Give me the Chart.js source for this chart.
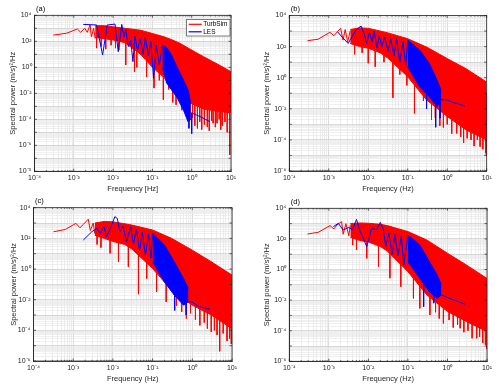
<!DOCTYPE html>
<html><head><meta charset="utf-8">
<script src="https://cdn.jsdelivr.net/npm/chart.js@4.4.0/dist/chart.umd.min.js"></script>
<style>
body{margin:0;background:#fff;width:500px;height:390px;position:relative;overflow:hidden}
canvas{position:absolute}
</style></head><body>
<canvas id="ca" width="250" height="195" style="left:0;top:0"></canvas>
<canvas id="cb" width="250" height="195" style="left:250px;top:0"></canvas>
<canvas id="cc" width="250" height="195" style="left:0;top:195px"></canvas>
<canvas id="cd" width="250" height="195" style="left:250px;top:195px"></canvas>
<script>
// ---------------- tick labels ----------------
const xTickValues = [1e-4, 1e-3, 1e-2, 1e-1, 1, 10];
const xTickLabels = ['10⁻⁴', '10⁻³', '10⁻²', '10⁻¹', '10⁰', '10¹'];
const yTickValuesA = [1e-8, 1e-6, 1e-4, 1e-2, 1, 1e2, 1e4];
const yTickLabelsA = ['10⁻⁸', '10⁻⁶', '10⁻⁴', '10⁻²', '10⁰', '10²', '10⁴'];
const yTickValuesBCD = [1e-6, 1e-4, 1e-2, 1, 1e2, 1e4];
const yTickLabelsBCD = ['10⁻⁶', '10⁻⁴', '10⁻²', '10⁰', '10²', '10⁴'];
const panelTags = ['(a)', '(b)', '(c)', '(d)'];
const xTitles = ['Frequency [Hz]', 'Frequency (Hz)', 'Frequency (Hz)', 'Frequency (Hz)'];
const yTitle = 'Spectral power (m/s)²/Hz';
const seriesNames = ['TurbSim', 'LES'];

// ---------------- panel (a) ----------------
const turbFreqA = [3.0e-4, 6.6e-4, 1.23e-3, 1.5e-3, 1.9e-3, 2.2e-3, 2.6e-3, 2.8e-3, 3.2e-3, 3.5e-3];
const turbPowA  = [3.0e2, 4.2e2, 8.9e2, 4.9e2, 1.0e3, 4.9e2, 1.8e3, 2.2e2, 1.0e3, 1.6e2];
const turbBandFreqA = [3.5e-3, 6e-3, 1e-2, 2e-2, 5e-2, 0.1, 0.2, 0.3, 0.5, 1, 2, 5, 10];
const turbHighA = [1.6e3, 1.6e3, 1.3e3, 1.0e3, 7.1e2, 4.0e2, 2.2e2, 1.4e2, 71, 21, 6.6, 1.5, 0.46];
const turbLowA  = [2.0e2, 1.6e2, 1.26e2, 79, 10, 1.0, 0.16, 0.032, 6.3e-3, 1.6e-3, 6.3e-4, 4e-4, 3.2e-4];
const turbSpikeFreqA = [3.8e-3, 5e-3, 6.5e-3, 8.9e-3, 1.15e-2, 1.4e-2, 2.1e-2, 3.5e-2, 4e-2, 7.1e-2, 0.11, 0.15, 0.19, 0.26, 0.33, 0.4, 0.56, 0.65, 0.8, 0.9, 1.05, 1.2, 1.4, 1.6, 1.8, 2.1, 2.5, 2.8, 3.2, 3.5, 4.0, 4.4, 5.0, 5.5, 6, 7, 8, 9.3];
const turbSpikeTopA  = [1e3, 1e3, 1e3, 1e3, 8e2, 8e2, 6e2, 4e2, 4e2, 3e2, 2e2, 1.5e2, 1e2, 60, 40, 30, 20, 10, 5, 3, 2, 2, 1, 1, 1, 0.5, 0.5, 0.4, 0.3, 0.3, 0.2, 0.2, 0.15, 0.1, 0.1, 0.08, 0.06, 0.05];
const turbSpikeLowA  = [30, 40, 25, 50, 30, 21, 1.5, 0.46, 1.0, 0.19, 0.025, 0.1, 3.2e-3, 0.02, 2e-3, 1.3e-3, 5e-4, 4e-4, 2.5e-4, 1e-4, 1.3e-4, 3.2e-5, 2e-5, 6.3e-5, 1.6e-5, 4e-5, 2.5e-5, 1.3e-5, 8e-5, 5e-5, 2.5e-5, 5e-5, 1e-4, 1.6e-5, 3.2e-5, 6.3e-5, 1e-5, 1.8e-7];
const lesFreqA = [1.74e-3, 3.8e-3, 5.4e-3, 7.1e-3, 1.12e-2, 1.35e-2, 1.66e-2, 1.9e-2, 2.1e-2, 2.45e-2, 2.8e-2, 3.2e-2, 3.6e-2, 4.2e-2, 4.9e-2, 5.8e-2, 6.6e-2, 7.9e-2, 9.1e-2, 0.107, 0.126, 0.15, 0.18];
const lesPowA  = [2.0e3, 1.8e3, 8.9, 1.8e3, 2.1e3, 16, 2.0e3, 2.2e2, 7.9e2, 40, 1.26e2, 2.7, 2.5e2, 20, 1.6e2, 10, 2.0e2, 7.9, 1.0e2, 0.14, 50, 1.6, 50];
const lesBandFreqA = [0.18, 0.23, 0.3, 0.42, 0.62, 0.81, 0.95];
const lesHighA = [50, 32, 10, 1.1, 0.1, 0.018, 1.6e-3];
const lesLowA  = [1.0, 0.063, 0.02, 5e-3, 5e-4, 6.3e-5, 1e-4];
const lesSpikeFreqA = [0.85, 1.0];
const lesSpikeTopA  = [1e-3, 3e-4];
const lesSpikeLowA  = [2e-5, 7.9e-6];
const lesTailFreqA = [0.95, 1.34, 1.8, 2.9];
const lesTailPowA  = [3.2e-4, 2.1e-4, 1.4e-4, 6.6e-5];

// ---------------- panel (b) ----------------
const turbFreqB = [2.9e-4, 5.4e-4, 1.07e-3, 1.35e-3, 1.66e-3, 2.0e-3, 2.3e-3, 2.6e-3, 3.0e-3, 3.5e-3];
const turbPowB  = [2.4e2, 3.0e2, 8.3e2, 5.0e2, 9.1e2, 1.5e3, 2.6e2, 1.26e3, 2.0e2, 1.0e3];
const turbBandFreqB = [3.5e-3, 6e-3, 1e-2, 2e-2, 3e-2, 0.1, 0.3, 1, 3, 10];
const turbHighB = [1.26e3, 1.6e3, 1.5e3, 1.0e3, 7.9e2, 3.2e2, 93, 17, 3.8, 0.52];
const turbLowB  = [1.6e2, 1.0e2, 79, 40, 20, 1.15, 0.037, 3.2e-3, 4.4e-4, 1e-4];
const turbSpikeFreqB = [4.5e-3, 7e-3, 1e-2, 1.5e-2, 2.5e-2, 4.2e-2, 6.3e-2, 9.5e-2, 0.148, 0.25, 0.4, 0.5, 0.65, 0.8, 1.0, 1.3, 1.74, 2.2, 2.6, 3.2, 4.0, 4.8, 5.8, 6.8, 8.0, 9.5, 9.8];
const turbSpikeTopB  = [1e3, 1e3, 8e2, 6e2, 5e2, 4e2, 3e2, 2e2, 1.5e2, 80, 40, 20, 10, 10, 5, 3, 2, 1, 1, 0.6, 0.5, 0.4, 0.3, 0.2, 0.15, 0.1, 0.1];
const turbSpikeLowB  = [32, 40, 8.5, 5.1, 10, 0.052, 1.6, 0.32, 5.1e-3, 0.032, 2e-3, 2.5e-3, 8e-4, 6.3e-4, 1e-3, 2.5e-4, 2.6e-4, 1.6e-4, 6.3e-5, 1.26e-4, 1e-4, 4e-5, 1e-4, 3.7e-5, 2.5e-5, 1.4e-5, 1e-5];
const lesFreqB = [1.66e-3, 2.2e-3, 3.1e-3, 4e-3, 5e-3, 6.6e-3, 7.9e-3, 9.1e-3, 1.07e-2, 1.26e-2, 1.4e-2, 1.66e-2, 1.9e-2, 2.2e-2, 2.6e-2, 3.2e-2, 3.7e-2, 4.5e-2, 5.2e-2, 6.3e-2, 7.6e-2, 8.9e-2, 0.1];
const lesPowB  = [9.1e2, 4.0e2, 1.6e2, 5.0e2, 1.26e3, 2.1e3, 6.3e2, 1.6e2, 7.9e2, 2.0e2, 1.0e3, 79, 5.0e2, 1.0e2, 4.0e2, 50, 3.2e2, 25, 3.2e2, 10, 2.0e2, 6.3, 2.5e2];
const lesBandFreqB = [0.1, 0.2, 0.35, 0.55, 0.7];
const lesHighB = [2.6e2, 60, 8.5, 0.71, 0.16];
const lesLowB  = [5.1, 0.26, 0.06, 0.014, 0.037];
const lesSpikeFreqB = [0.3, 0.51, 0.66];
const lesSpikeTopB  = [1, 0.1, 0.05];
const lesSpikeLowB  = [0.01, 6.5e-4, 2.5e-3];
const lesTailFreqB = [0.7, 1.0, 1.5, 2.8];
const lesTailPowB  = [0.04, 0.037, 0.025, 0.015];

// ---------------- panel (c) ----------------
const turbFreqC = [3.2e-4, 6.3e-4, 1.17e-3, 1.48e-3, 1.8e-3, 2.4e-3, 2.7e-3, 3.2e-3, 3.5e-3];
const turbPowC  = [2.7e2, 3.8e2, 9.5e2, 4.9e2, 8.1e2, 1.8e3, 3.2e2, 1.0e3, 2.0e2];
const turbBandFreqC = [3.5e-3, 6e-3, 1e-2, 2e-2, 3e-2, 0.1, 0.3, 1, 3, 10];
const turbHighC = [1.0e3, 1.26e3, 1.2e3, 8.9e2, 7.4e2, 3.5e2, 1.0e2, 17, 3.0, 0.4];
const turbLowC  = [1.6e2, 1.0e2, 63, 40, 20, 1.07, 0.042, 4.4e-3, 1e-3, 1.26e-4];
const turbSpikeFreqC = [4e-3, 5e-3, 8.5e-3, 1.38e-2, 2.45e-2, 4.4e-2, 7.1e-2, 0.126, 0.22, 0.4, 0.54, 0.71, 0.9, 1.2, 1.55, 2.0, 2.4, 3.0, 3.6, 4.2, 4.9, 6, 7.5, 8.7, 9.6];
const turbSpikeTopC  = [8e2, 8e2, 8e2, 6e2, 5e2, 4e2, 2e2, 1.5e2, 80, 30, 20, 10, 6, 4, 3, 2, 1.5, 0.8, 0.8, 0.6, 0.3, 0.3, 0.2, 0.1, 0.1];
const turbSpikeLowC  = [40, 25, 10.5, 3.0, 1.4, 0.023, 0.24, 0.032, 7.2e-3, 4e-3, 1.6e-3, 5.9e-4, 1.3e-3, 5e-4, 2.1e-4, 3.2e-4, 1.3e-4, 7.9e-5, 1e-4, 5e-5, 4.3e-6, 6.3e-5, 2e-5, 2.9e-5, 1.3e-5];
const lesFreqC = [1.8e-3, 2.95e-3, 3.9e-3, 4.8e-3, 6e-3, 6.9e-3, 8.5e-3, 1.12e-2, 1.29e-2, 1.5e-2, 1.8e-2, 2.2e-2, 2.8e-2, 3.3e-2, 3.9e-2, 4.7e-2, 5.5e-2, 6.6e-2, 7.9e-2, 9.1e-2, 0.1];
const lesPowC  = [78, 2.7e2, 4.5e2, 2.1e2, 5.8e2, 1.26e2, 4.0e2, 2.6e3, 2.0e3, 2.7e2, 6.3e2, 60, 5.8e2, 40, 4.0e2, 16, 2.5e2, 7.9, 2.0e2, 5, 2.0e2];
const lesBandFreqC = [0.1, 0.2, 0.35, 0.6, 0.8];
const lesHighC = [2.1e2, 36, 3.0, 0.24, 0.054];
const lesLowC  = [3.0, 0.14, 0.02, 4.4e-3, 7.2e-3];
const lesSpikeFreqC = [0.36, 0.7];
const lesSpikeTopC  = [0.5, 0.05];
const lesSpikeLowC  = [2e-3, 1e-3];
const lesTailFreqC = [0.8, 0.95, 1.5, 2.75];
const lesTailPowC  = [7.2e-3, 7.2e-3, 3.5e-3, 2.4e-3];

// ---------------- panel (d) ----------------
const turbFreqD = [2.9e-4, 5.4e-4, 1.07e-3, 1.35e-3, 1.6e-3, 2.1e-3, 2.3e-3, 2.7e-3, 3.2e-3, 3.5e-3];
const turbPowD  = [2.1e2, 2.7e2, 7.4e2, 4.5e2, 8.1e2, 1.35e3, 2.0e2, 1.0e3, 1.6e2, 8e2];
const turbBandFreqD = [3.5e-3, 6e-3, 1e-2, 2e-2, 3e-2, 0.1, 0.3, 1, 3, 10];
const turbHighD = [1.0e3, 1.1e3, 1.05e3, 8.9e2, 7.4e2, 3.0e2, 85, 11.5, 2.0, 0.26];
const turbLowD  = [1.26e2, 79, 63, 32, 16, 0.72, 0.022, 1.8e-3, 4e-4, 8.7e-5];
const turbSpikeFreqD = [4e-3, 5e-3, 9.1e-3, 1.8e-2, 3.5e-2, 6.6e-2, 0.138, 0.2, 0.36, 0.5, 0.62, 0.79, 1.1, 1.4, 1.8, 2.1, 2.6, 3.3, 4.2, 5.5, 6.5, 7.8, 9.1, 9.9];
const turbSpikeTopD  = [8e2, 8e2, 7e2, 5e2, 4e2, 2e2, 1e2, 60, 30, 20, 12, 5, 5, 3, 2, 1, 1, 0.7, 0.4, 0.3, 0.15, 0.1, 0.1, 0.05];
const turbSpikeLowD  = [40, 19, 5.4, 1.55, 0.27, 0.076, 0.013, 2.9e-3, 1.07e-3, 1.6e-3, 6.3e-4, 3e-4, 5e-4, 1.6e-4, 2.5e-4, 1.45e-4, 8e-5, 1e-4, 3.2e-5, 3.2e-5, 4e-5, 1.6e-5, 1.2e-5, 6.3e-6];
const lesFreqD = [1.3e-3, 1.74e-3, 2.3e-3, 3.2e-3, 4e-3, 5e-3, 6.2e-3, 7.4e-3, 9.1e-3, 1.2e-2, 1.6e-2, 2.0e-2, 2.4e-2, 2.75e-2, 3.3e-2, 4e-2, 4.7e-2, 5.6e-2, 6.8e-2, 7.9e-2, 0.1];
const lesPowD  = [6.3e2, 1.05e3, 3.8e2, 5.6e2, 4e2, 1.9e3, 3.0e2, 1.1e2, 31, 4.9e2, 4.0e2, 1.2e3, 4e2, 32, 2.5e2, 10, 2e2, 7.9, 1.6e2, 2, 1.8e2];
const lesBandFreqD = [0.1, 0.2, 0.35, 0.55, 0.7];
const lesHighD = [1.8e2, 40, 3.2, 0.44, 0.1];
const lesLowD  = [3.2, 0.27, 0.035, 0.013, 0.022];
const lesSpikeFreqD = [0.25, 0.45];
const lesSpikeTopD  = [5, 0.3];
const lesSpikeLowD  = [3.7e-3, 6.3e-3];
const lesTailFreqD = [0.7, 0.87, 1.5, 2.75];
const lesTailPowD  = [0.022, 0.017, 0.01, 5.4e-3];

// ---------------- rendering ----------------
const FONT = '"Liberation Sans", Arial, sans-serif';
const RED = '#ff0000', BLUE = '#0000ff', AXC = '#262626';

function pts(f, v) { return f.map((x, i) => ({x: x, y: v[i]})); }
function spikePts(f, top, low) {
  const out = [];
  f.forEach((x, i) => { out.push({x: x, y: top[i]}, {x: x, y: low[i]}, {x: x, y: null}); });
  return out;
}
function isDecade(v) { const l = Math.log10(v); return Math.abs(l - Math.round(l)) < 1e-6; }
function gridValues(minE, maxE) {
  const t = [];
  for (let e = minE; e < maxE; e++) for (let m = 1; m < 10; m++) t.push(m * Math.pow(10, e));
  t.push(Math.pow(10, maxE));
  return t;
}
function labelFor(v, vals, labs) {
  for (let i = 0; i < vals.length; i++) if (Math.abs(Math.log10(v) - Math.log10(vals[i])) < 1e-6) return labs[i];
  return '';
}

const decor = {
  id: 'decor',
  afterDraw(chart, args, o) {
    const {ctx, chartArea: a, scales: {x, y}} = chart;
    ctx.save();
    ctx.strokeStyle = AXC; ctx.lineWidth = 0.7;
    const seg = (x1, y1, x2, y2) => { ctx.beginPath(); ctx.moveTo(x1, y1); ctx.lineTo(x2, y2); ctx.stroke(); };
    x.ticks.forEach(t => {
      const px = x.getPixelForValue(t.value);
      const L = isDecade(t.value) ? 2.5 : 1.2;
      seg(px, a.bottom, px, a.bottom - L); seg(px, a.top, px, a.top + L);
    });
    y.ticks.forEach(t => {
      if (!isDecade(t.value)) return;
      const py = y.getPixelForValue(t.value);
      seg(a.left, py, a.left + 2.5, py); seg(a.right, py, a.right - 2.5, py);
    });
    ctx.lineWidth = 0.8;
    ctx.strokeRect(a.left, a.top, a.right - a.left, a.bottom - a.top);
    ctx.fillStyle = '#000';
    ctx.font = '7.5px ' + FONT;
    ctx.textBaseline = 'middle'; ctx.textAlign = 'left';
    ctx.fillText(o.tag, a.left + 1.5, a.top - 6.5);
    if (o.legend) {
      const bx = a.right - 44.3, by = a.top + 4, bw = 43.3, bh = 16.7;
      ctx.fillStyle = '#fff'; ctx.fillRect(bx, by, bw, bh);
      ctx.strokeStyle = AXC; ctx.lineWidth = 0.6; ctx.strokeRect(bx, by, bw, bh);
      ctx.lineWidth = 1.2;
      ctx.strokeStyle = RED; seg(bx + 2, by + 5, bx + 15, by + 5);
      ctx.strokeStyle = BLUE; seg(bx + 2, by + 12.5, bx + 15, by + 12.5);
      ctx.fillStyle = '#000'; ctx.font = '6.5px ' + FONT;
      ctx.fillText(seriesNames[0], bx + 16.5, by + 5);
      ctx.fillText(seriesNames[1], bx + 16.5, by + 12.5);
    }
    ctx.restore();
  }
};

function makeChart(p) {
  const line = (data, color, extra) => Object.assign({
    data: data, borderColor: color, backgroundColor: color, borderWidth: 1,
    pointRadius: 0, tension: 0, fill: false, spanGaps: false
  }, extra || {});
  const datasets = [
    line(pts(p.lesF, p.lesP), BLUE, {label: seriesNames[1]}),
    line(spikePts(p.lesSpF, p.lesSpT, p.lesSpL), BLUE),
    line(pts(p.lesBF, p.lesHi), BLUE, {fill: '+1'}),
    line(pts(p.lesBF, p.lesLo), BLUE),
    line(pts(p.lesTF, p.lesTP), BLUE),
    line(pts(p.turbF, p.turbP), RED, {label: seriesNames[0]}),
    line(spikePts(p.turbSpF, p.turbSpT, p.turbSpL), RED),
    line(pts(p.turbBF, p.turbHi), RED, {fill: '+1'}),
    line(pts(p.turbBF, p.turbLo), RED)
  ];
  const H = 195, W = 250, A = p.area;
  const xGrid = gridValues(-4, 1);
  const yGrid = gridValues(p.yMinE, 4);
  new Chart(document.getElementById(p.id), {
    type: 'line',
    data: {datasets: datasets},
    options: {
      responsive: false, animation: false, devicePixelRatio: 1,
      layout: {padding: {top: A.t, right: W - A.r, left: 0, bottom: 0}},
      plugins: {legend: {display: false}, tooltip: {enabled: false},
        decor: {tag: p.tag, legend: p.legend}},
      scales: {
        x: {
          type: 'logarithmic', min: 1e-4, max: 10, position: 'bottom',
          afterBuildTicks: s => { s.ticks = xGrid.map(v => ({value: v})); },
          afterFit: s => { s.height = H - A.b; s.paddingLeft = 0; s.paddingRight = 0; },
          ticks: {autoSkip: false, maxRotation: 0, minRotation: 0, padding: 3, color: AXC,
            font: {family: FONT, size: 7}, callback: v => labelFor(v, xTickValues, xTickLabels)},
          grid: {drawTicks: false, lineWidth: 0.7,
            color: c => (c.tick && isDecade(c.tick.value)) ? '#cccccc' : '#e4e4e4'},
          border: {display: true, color: AXC, width: 0.8},
          title: {display: true, text: p.xTitle, color: AXC, font: {family: FONT, size: 7.5},
            padding: {top: 0, bottom: p.xTitlePad}}
        },
        y: {
          type: 'logarithmic', min: Math.pow(10, p.yMinE), max: 1e4,
          afterBuildTicks: s => { s.ticks = yGrid.map(v => ({value: v})); },
          afterFit: s => { s.width = A.l; s.paddingTop = 0; s.paddingBottom = 0; },
          ticks: {autoSkip: false, padding: 3, color: AXC, font: {family: FONT, size: 7},
            callback: v => labelFor(v, p.yVals, p.yLabs)},
          grid: {drawTicks: false, lineWidth: 0.7,
            color: c => (c.tick && isDecade(c.tick.value)) ? '#cccccc' : '#e8e8e8'},
          border: {display: true, color: AXC, width: 0.8},
          title: {display: true, text: yTitle, color: AXC, font: {family: FONT, size: 7.5},
            padding: {top: p.yTitlePad, bottom: 0}}
        }
      }
    },
    plugins: [decor]
  });
}

makeChart({id: 'ca', tag: panelTags[0], xTitle: xTitles[0], legend: true, yMinE: -8,
  yVals: yTickValuesA, yLabs: yTickLabelsA,
  area: {l: 34.5, t: 15.3, r: 231, b: 171.3}, yTitlePad: 8.5, xTitlePad: 1.5,
  turbF: turbFreqA, turbP: turbPowA, turbBF: turbBandFreqA, turbHi: turbHighA, turbLo: turbLowA,
  turbSpF: turbSpikeFreqA, turbSpT: turbSpikeTopA, turbSpL: turbSpikeLowA,
  lesF: lesFreqA, lesP: lesPowA, lesBF: lesBandFreqA, lesHi: lesHighA, lesLo: lesLowA,
  lesSpF: lesSpikeFreqA, lesSpT: lesSpikeTopA, lesSpL: lesSpikeLowA, lesTF: lesTailFreqA, lesTP: lesTailPowA});
makeChart({id: 'cb', tag: panelTags[1], xTitle: xTitles[1], legend: false, yMinE: -6,
  yVals: yTickValuesBCD, yLabs: yTickLabelsBCD,
  area: {l: 39.3, t: 15.5, r: 236.7, b: 171}, yTitlePad: 12.2, xTitlePad: 1.5,
  turbF: turbFreqB, turbP: turbPowB, turbBF: turbBandFreqB, turbHi: turbHighB, turbLo: turbLowB,
  turbSpF: turbSpikeFreqB, turbSpT: turbSpikeTopB, turbSpL: turbSpikeLowB,
  lesF: lesFreqB, lesP: lesPowB, lesBF: lesBandFreqB, lesHi: lesHighB, lesLo: lesLowB,
  lesSpF: lesSpikeFreqB, lesSpT: lesSpikeTopB, lesSpL: lesSpikeLowB, lesTF: lesTailFreqB, lesTP: lesTailPowB});
makeChart({id: 'cc', tag: panelTags[2], xTitle: xTitles[2], legend: false, yMinE: -6,
  yVals: yTickValuesBCD, yLabs: yTickLabelsBCD,
  area: {l: 33.5, t: 12.7, r: 232, b: 166}, yTitlePad: 9.5, xTitlePad: 6.5,
  turbF: turbFreqC, turbP: turbPowC, turbBF: turbBandFreqC, turbHi: turbHighC, turbLo: turbLowC,
  turbSpF: turbSpikeFreqC, turbSpT: turbSpikeTopC, turbSpL: turbSpikeLowC,
  lesF: lesFreqC, lesP: lesPowC, lesBF: lesBandFreqC, lesHi: lesHighC, lesLo: lesLowC,
  lesSpF: lesSpikeFreqC, lesSpT: lesSpikeTopC, lesSpL: lesSpikeLowC, lesTF: lesTailFreqC, lesTP: lesTailPowC});
makeChart({id: 'cd', tag: panelTags[3], xTitle: xTitles[3], legend: false, yMinE: -6,
  yVals: yTickValuesBCD, yLabs: yTickLabelsBCD,
  area: {l: 39.3, t: 13.3, r: 237, b: 166.3}, yTitlePad: 12.7, xTitlePad: 6.5,
  turbF: turbFreqD, turbP: turbPowD, turbBF: turbBandFreqD, turbHi: turbHighD, turbLo: turbLowD,
  turbSpF: turbSpikeFreqD, turbSpT: turbSpikeTopD, turbSpL: turbSpikeLowD,
  lesF: lesFreqD, lesP: lesPowD, lesBF: lesBandFreqD, lesHi: lesHighD, lesLo: lesLowD,
  lesSpF: lesSpikeFreqD, lesSpT: lesSpikeTopD, lesSpL: lesSpikeLowD, lesTF: lesTailFreqD, lesTP: lesTailPowD});
</script>
</body></html>
